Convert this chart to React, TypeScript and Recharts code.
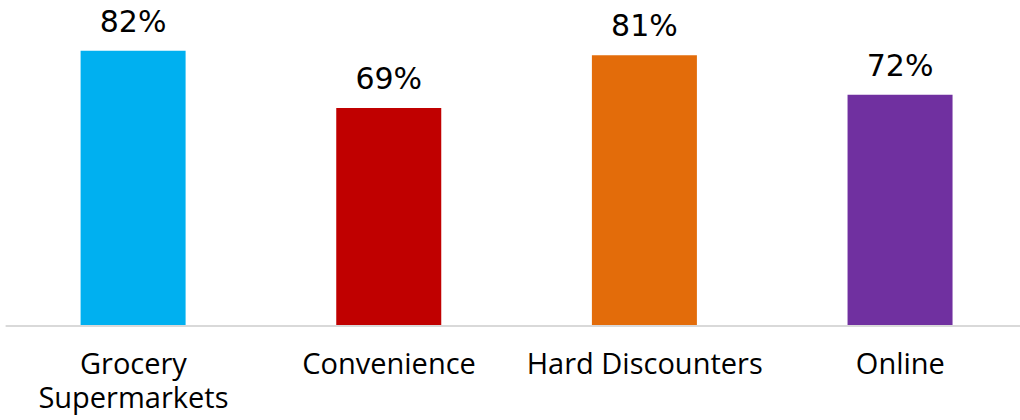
import { BarChart, Bar, XAxis, YAxis, Cell, LabelList } from 'recharts';

const categories = ['Grocery Supermarkets', 'Convenience', 'Hard Discounters', 'Online'];
const shares = [82, 69, 81, 72];
const barColors = ['#00B0F0', '#C00000', '#E36C0A', '#7030A0'];
// how the category names wrap under the axis
const tickLines: Record<string, string[]> = {
  'Grocery Supermarkets': ['Grocery', 'Supermarkets'],
};

const data = categories.map((name, i) => ({ name, value: shares[i] }));

function CategoryTick({ x, y, payload }: any) {
  const lines = tickLines[payload.value] ?? [payload.value];
  return (
    <text
      x={x}
      y={y}
      textAnchor="middle"
      fill="#000"
      fontSize={29}
      fontFamily="'Open Sans', sans-serif"
    >
      {lines.map((line, i) => (
        <tspan key={line} x={x} dy={i === 0 ? 48 : 34}>
          {line}
        </tspan>
      ))}
    </text>
  );
}

export default function App() {
  return (
    <div
      style={{
        position: 'absolute',
        left: 0,
        top: 0,
        width: 1020,
        height: 420,
        overflow: 'hidden',
        background: '#fff',
      }}
    >
      <BarChart
        width={1030}
        height={420}
        data={data}
        margin={{ top: 15.5, right: 1.8, left: 5.6, bottom: 14 }}
        barSize={105}
      >
        <XAxis
          dataKey="name"
          height={80}
          interval={0}
          tickLine={false}
          tickSize={0}
          tickMargin={0}
          axisLine={{ stroke: '#d9d9d9', strokeWidth: 2 }}
          tick={<CategoryTick />}
        />
        <YAxis hide domain={[19.5, 90]} />
        <Bar dataKey="value" isAnimationActive={false}>
          {data.map((d, i) => (
            <Cell key={d.name} fill={barColors[i]} />
          ))}
          <LabelList
            dataKey="value"
            position="top"
            offset={19}
            formatter={(v: any) => `${v}%`}
            fill="#000"
            fontSize={30}
            fontFamily="'DejaVu Sans', sans-serif"
          />
        </Bar>
      </BarChart>
    </div>
  );
}
